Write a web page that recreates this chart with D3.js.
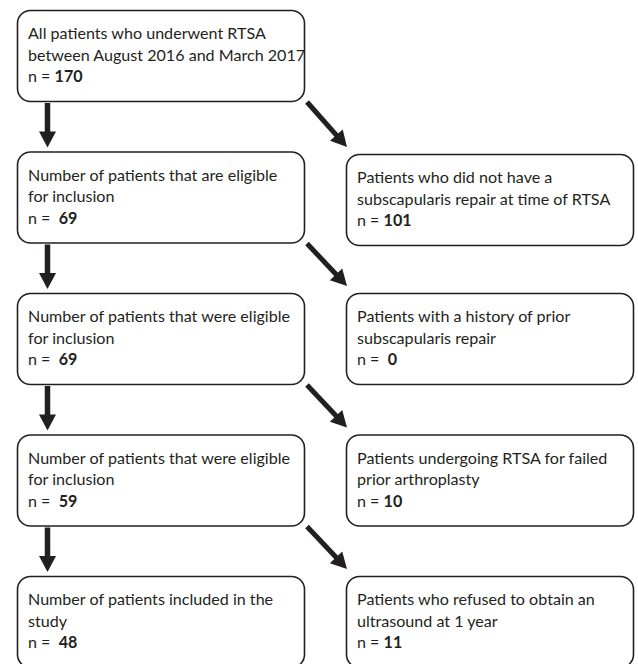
<!DOCTYPE html>
<html>
<head>
<meta charset="utf-8">
<script src="https://cdn.jsdelivr.net/npm/d3@7"></script>
<style>
  html, body { margin: 0; padding: 0; background: #fff; }
  svg { display: block; }
  text { font-family: Lato, "Open Sans", sans-serif; fill: #231f20; white-space: pre; }
</style>
</head>
<body>
<svg id="chart" width="638" height="664"></svg>
<script>
// ---- data ----
const leftLabels = [
  ["All patients who underwent RTSA", "between August 2016 and March 2017"],
  ["Number of patients that are eligible", "for inclusion"],
  ["Number of patients that were eligible", "for inclusion"],
  ["Number of patients that were eligible", "for inclusion"],
  ["Number of patients included in the", "study"]
];
const leftPrefix = ["n = ", "n =  ", "n =  ", "n =  ", "n =  "];
const leftCounts = [170, 69, 69, 59, 48];

const rightLabels = [
  ["Patients who did not have a", "subscapularis repair at time of RTSA"],
  ["Patients with a history of prior", "subscapularis repair"],
  ["Patients undergoing RTSA for failed", "prior arthroplasty"],
  ["Patients who refused to obtain an", "ultrasound at 1 year"]
];
const rightPrefix = ["n = ", "n =  ", "n = ", "n = "];
const rightCounts = [101, 0, 10, 11];

// ---- layout ----
const svg = d3.select("#chart");
const row = d3.scaleLinear().domain([0, 4]).range([10, 576]);
const boxH = 91;
const col = d3.scaleOrdinal().domain(["L", "R"]).range([17, 346]);
const boxW = 287;
const radius = 13;
const lineY = d3.scaleLinear().domain([0, 1]).range([29, 50.5]);
const stroke = "#231f20";
const fontSize = "16.1px";

const leftData = leftLabels.map((lines, i) => ({lines, prefix: leftPrefix[i], n: leftCounts[i], row: i, col: "L"}));
const rightData = rightLabels.map((lines, i) => ({lines, prefix: rightPrefix[i], n: rightCounts[i], row: i + 1, col: "R"}));
const boxes = leftData.concat(rightData);

const g = svg.selectAll("g.box").data(boxes).enter().append("g")
  .attr("class", "box")
  .attr("transform", d => `translate(${col(d.col)},${row(d.row) + (d.col === "R" && d.row === 1 ? 2.5 : 0)})`);

g.append("rect")
  .attr("x", 0.5).attr("y", 0.5)
  .attr("width", boxW).attr("height", boxH)
  .attr("rx", radius).attr("ry", radius)
  .attr("fill", "#fff").attr("stroke", stroke).attr("stroke-width", 1.6);

g.each(function(d) {
  const sel = d3.select(this);
  d.lines.forEach((t, k) => {
    sel.append("text").attr("x", 11).attr("y", lineY(k))
      .style("font-size", fontSize).text(t);
  });
  const last = sel.append("text").attr("x", 11).attr("y", lineY(2)).style("font-size", fontSize);
  last.append("tspan").text(d.prefix);
  last.append("tspan").style("font-weight", "bold").text(d.n);
});

// ---- arrows ----
function arrow(x1, y1, x2, y2, w, headW, headL) {
  const ang = Math.atan2(y2 - y1, x2 - x1);
  const bx = x2 - headL * Math.cos(ang), by = y2 - headL * Math.sin(ang);
  svg.append("line").attr("x1", x1).attr("y1", y1).attr("x2", bx + Math.cos(ang)).attr("y2", by + Math.sin(ang))
    .attr("stroke", stroke).attr("stroke-width", w);
  const px = -Math.sin(ang) * headW / 2, py = Math.cos(ang) * headW / 2;
  svg.append("path")
    .attr("d", d3.line()([[x2, y2], [bx + px, by + py], [bx - px, by - py]]) + "Z")
    .attr("fill", stroke);
}

d3.range(4).forEach(i => {
  const bottom = row(i) + boxH;
  const nextTop = row(i + 1);
  // vertical arrow
  arrow(47.5, bottom + 2, 47.5, nextTop - 4, 5.5, 17, 16);
  // diagonal arrow
  const rTop = row(i + 1) + (i === 0 ? 2.5 : 0);
  arrow(col("L") + boxW + 3, bottom + 1, col("R") + 1, rTop - 7, 5, 17, 16);
});
</script>
</body>
</html>
